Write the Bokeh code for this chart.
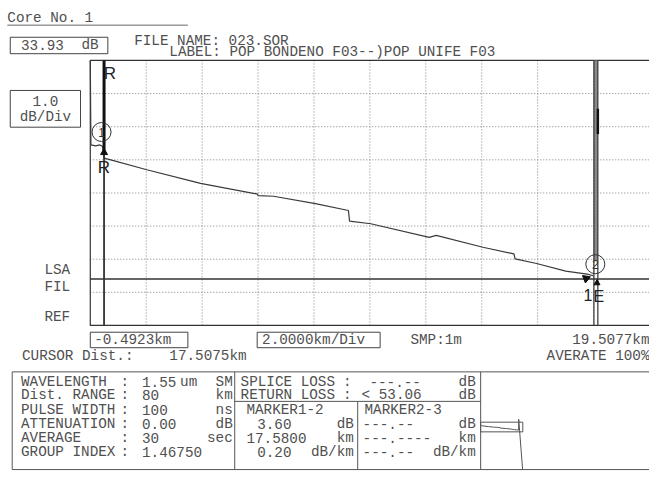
from bokeh.plotting import figure
from bokeh.models import Range1d
from bokeh.core.properties import value
from bokeh.embed import file_html
from bokeh.resources import INLINE

# ---------------- data ----------------
trace_km = [-0.4923, -0.47, -0.30, -0.15, -0.05, 0.00, 0.14, 1.53, 3.17, 3.45, 5.47, 5.52,
            6.06, 7.56, 8.74, 8.78, 9.54, 11.63, 11.88, 13.55, 14.66, 14.70, 15.47, 16.51,
            17.28, 17.50]
trace_db = [8.00, 5.45, 5.42, 5.45, 5.40, 5.05, 5.02, 4.70, 4.35, 4.29, 3.97, 3.92,
            3.90, 3.68, 3.47, 3.15, 3.07, 2.66, 2.72, 2.36, 2.16, 2.01, 1.87, 1.64,
            1.55, 1.50]
end_km = [17.52, 17.57, 19.40]          # fibre end / noise in overview
end_db = [1.50, 10.4, -31.0]
x_start_km = -0.4923
km_per_div = 2.0
n_xdiv = 10
db_per_div = 1.0
n_ydiv = 8
threshold_db = 1.40
cursor_km = 0.0
end_band_km = [17.52, 17.66]
end_band_db = [1.95, 8.0]
end_dark_db = [5.78, 6.54]
marker_km = [-0.09, 17.57]
marker_db = [5.84, 1.85]
marker_lbl = ["1", "2"]
dist_range_km = 80

left_labels = ["WAVELENGTH", "Dist. RANGE", "PULSE WIDTH", "ATTENUATION", "AVERAGE", "GROUP INDEX"]
left_values = ["1.55", "80", "100", "0.00", "30", "1.46750"]
left_units = ["SM", "km", "ns", "dB", "sec", ""]

# ---------------- page geometry (reference pixels) ----------------
W, H = 649, 471
RX0, RX1 = 0.0, 665.0
RY0, RY1 = 0.0, 487.0
PL, PR, PT, PB = 92.0, 665.0, 62.0, 336.0

x_end_km = x_start_km + n_xdiv * km_per_div
kpp = (x_end_km - x_start_km) / (PR - PL)
db_top = n_ydiv * db_per_div
dpp = db_top / (PB - PT)

MX0 = 493.0
MPPK = (665.0 - 492.0) / dist_range_km
MY0 = 446.0
MPPD = 1.25

p = figure(width=W, height=H, x_range=Range1d(RX0, RX1), y_range=Range1d(RY1, RY0),
           x_axis_location=None, y_axis_location=None, min_border=0,
           output_backend="svg", toolbar_location=None,
           background_fill_color="white", border_fill_color="white", outline_line_color=None)
p.grid.visible = False
p.extra_x_ranges = {
    "km": Range1d(x_start_km - (PL - RX0) * kpp, x_end_km + (RX1 - PR) * kpp),
    "mkm": Range1d((RX0 - MX0) / MPPK, (RX1 - MX0) / MPPK),
}
p.extra_y_ranges = {
    "db": Range1d(0 - (RY1 - PB) * dpp, db_top + (PT - RY0) * dpp),
    "mdb": Range1d(-(RY1 - MY0) / MPPD, (MY0 - RY0) / MPPD),
}
KD = dict(x_range_name="km", y_range_name="db")
MD = dict(x_range_name="mkm", y_range_name="mdb")

MONO = "Liberation Mono"
SANS = "Liberation Sans"
FS = "14.3px"
TC = "#505050"
LC = "#444444"


def T(x, y, s, align="left", size=FS, font=MONO, color=TC, **kw):
    p.text(x=[x], y=[y], text=[s], text_align=align, text_baseline="middle",
           text_font=value(font), text_font_size=value(size), text_color=color, **kw)


def box(l, r, t, b, color=LC, w=1):
    p.quad(left=[l], right=[r], top=[t], bottom=[b], fill_color=None, line_color=color, line_width=w)


def seg(x0, y0, x1, y1, color=LC, w=1, **kw):
    p.segment(x0=x0, y0=y0, x1=x1, y1=y1, line_color=color, line_width=w, **kw)


# ---------------- header ----------------
T(7, 18, "Core No. 1")
seg([7], [25.5], [192], [25.5], color="#666")
box(10, 110, 38, 55)
T(21, 46, "33.93")
T(83, 46, "dB")
T(137, 42, "FILE NAME: 023.SOR")
T(173, 53, "LABEL: POP BONDENO F03--)POP UNIFE F03")
box(10, 82, 93, 131)
T(46, 104, "1.0", align="center")
T(46, 120, "dB/Div", align="center")
T(45, 279, "LSA")
T(45, 296, "FIL")
T(45, 327, "REF")

# ---------------- plot area ----------------
grid_x = [x_start_km + k * km_per_div for k in range(1, n_xdiv)]
grid_y = [k * db_per_div for k in range(1, n_ydiv)]
p.segment(x0=grid_x, y0=[0] * len(grid_x), x1=grid_x, y1=[db_top] * len(grid_x),
          line_color="#808080", line_width=1, line_dash="1 2", **KD)
p.segment(x0=[x_start_km] * len(grid_y), y0=grid_y, x1=[x_end_km] * len(grid_y), y1=grid_y,
          line_color="#808080", line_width=1, line_dash="1 2", **KD)
# frame (top, left, bottom)
p.multi_line(xs=[[x_end_km, x_start_km, x_start_km, x_end_km]], ys=[[db_top, db_top, 0, 0]],
             line_color="#333", line_width=1.2, **KD)
# threshold line
p.segment(x0=[x_start_km], y0=[threshold_db], x1=[x_end_km], y1=[threshold_db],
          line_color="#333", line_width=1.5, **KD)
# fibre end band
p.quad(left=[end_band_km[0]], right=[end_band_km[1]], bottom=[end_band_db[0]], top=[end_band_db[1]],
       fill_color="#8a8a8a", line_color=None, **KD)
p.segment(x0=end_band_km, y0=[0, 0], x1=end_band_km, y1=[db_top, db_top],
          line_color="#333", line_width=1.2, **KD)
p.segment(x0=[end_band_km[1]], y0=[end_dark_db[0]], x1=[end_band_km[1]], y1=[end_dark_db[1]],
          line_color="#111", line_width=2.5, **KD)
# trace
p.line(trace_km, trace_db, line_color="#3a3a3a", line_width=1.2, **KD)
# cursor R
p.segment(x0=[cursor_km], y0=[5.2], x1=[cursor_km], y1=[db_top], line_color="#111", line_width=3, **KD)
p.segment(x0=[cursor_km], y0=[0], x1=[cursor_km], y1=[5.2], line_color="#333", line_width=1.8, **KD)
p.scatter([cursor_km], [5.22], marker="triangle", size=7, fill_color="#111", line_color="#111", **KD)
T(112, 75, "R", align="center", size="17px", font=SANS, color="#222")
T(106, 173, "R", align="center", size="17px", font=SANS, color="#222")
# end markers
p.scatter([17.24], [1.42], marker="triangle", angle=-1.2, size=8, fill_color="#111", line_color="#111", **KD)
p.scatter([17.63], [1.28], marker="triangle", size=6, fill_color="#111", line_color="#111", **KD)
T(602, 304, "1", align="center", size="16px", font=SANS, color="#222")
T(613, 306, "E", align="center", size="16px", font=SANS, color="#222")
# numbered circles
p.scatter(marker_km, marker_db, marker="circle", size=19, fill_color=None, line_color="#333", line_width=1, **KD)
p.text(x=marker_km, y=marker_db, text=marker_lbl, text_align="center", text_baseline="middle",
       text_font=value(SANS), text_font_size=value("12px"), text_color="#333", **KD)

# ---------------- below plot ----------------
box(92, 192, 343, 359)
T(96, 351, "-0.4923km")
box(263, 389, 343, 359)
T(268, 351, "2.0000km/Div")
T(420, 351, "SMP:1m")
T(665, 351, "19.5077km", align="right")
T(22, 368, "CURSOR Dist.:")
T(173, 368, "17.5075km")
T(665, 368, "AVERATE 100%", align="right")

# ---------------- table ----------------
TT, TB = 384, 485
seg([12, 12, 12, 240, 492, 366, 240], [TT, TB, TT, TT, TT, 414.5, 414.5],
    [665, 665, 12, 240, 492, 366, 492], [TT, TB, TB, TB, TB, TB, 414.5], color="#555")
rows = [394, 408, 423.5, 438, 452.5, 467]
for lab, val, unit, y in zip(left_labels, left_values, left_units, rows):
    T(21, y, lab)
    T(123, y, ":")
    T(145, y, val)
    if unit:
        T(238, y, unit, align="right")
T(184, rows[0], "um")

T(246, rows[0], "SPLICE LOSS")
T(351, rows[0], ":")
T(378, rows[0], "---.--")
T(487, rows[0], "dB", align="right")
T(246, rows[1], "RETURN LOSS")
T(351, rows[1], ":")
T(370, rows[1], "< 53.06")
T(487, rows[1], "dB", align="right")

T(252, rows[2], "MARKER1-2")
T(373, rows[2], "MARKER2-3")
T(263, rows[3], "3.60")
T(362, rows[3], "dB", align="right")
T(252, rows[4], "17.5800")
T(362, rows[4], "km", align="right")
T(263, rows[5], "0.20")
T(362, rows[5], "dB/km", align="right")
T(371, rows[3], "---.--")
T(487, rows[3], "dB", align="right")
T(371, rows[4], "---.----")
T(487, rows[4], "km", align="right")
T(371, rows[5], "---.--")
T(487, rows[5], "dB/km", align="right")

# mini overview
p.quad(left=[x_start_km], right=[x_end_km], bottom=[0], top=[db_top], fill_color=None,
       line_color="#555", line_width=1, **MD)
p.line(trace_km[1:] + end_km, trace_db[1:] + end_db, line_color="#555", line_width=1, **MD)

open("out.html", "w").write(file_html(p, INLINE))
